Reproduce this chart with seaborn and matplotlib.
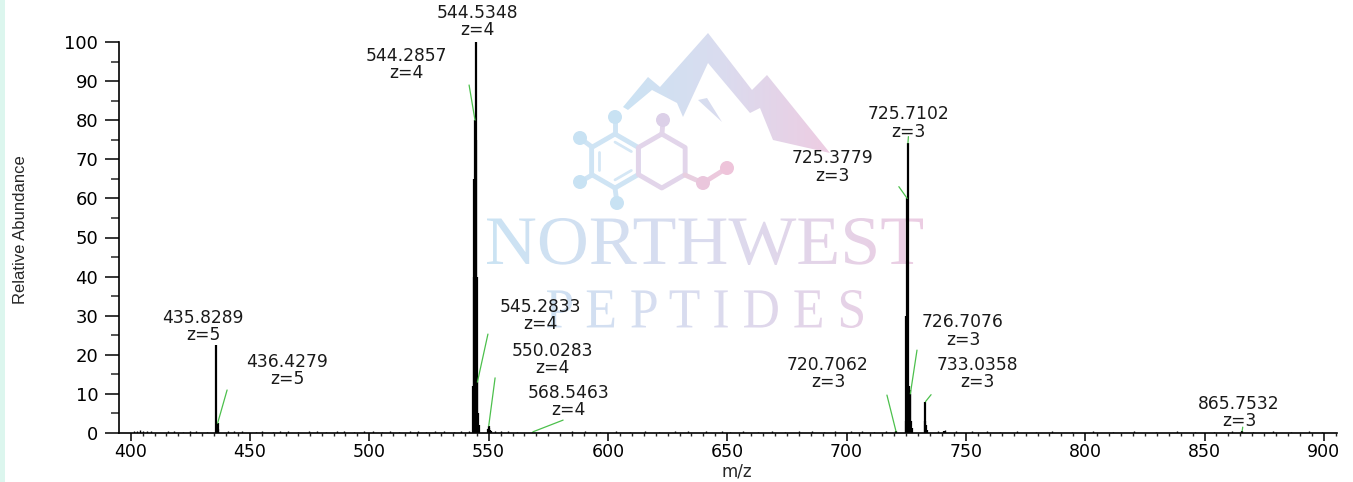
import numpy as np
import matplotlib
matplotlib.use("Agg")
import matplotlib.pyplot as plt
import matplotlib.ticker as mticker
import seaborn as sns
from matplotlib.patches import PathPatch, Polygon, Circle, Rectangle
from matplotlib.textpath import TextPath
from matplotlib.font_manager import FontProperties
from matplotlib.colors import LinearSegmentedColormap
from matplotlib.transforms import Affine2D

sns.set_style("ticks")
plt.rcParams["font.family"] = ["DejaVu Sans"]

# Centroid peaks: m/z and relative abundance (%)
peak_mz = [435.8289, 436.0291, 436.2283, 436.4279, 436.6284,
           543.5345, 543.7838, 544.0347, 544.2857, 544.5348,
           544.7850, 545.0339, 545.2833, 545.5340, 545.7840,
           549.7780, 550.0283, 550.2790, 550.5300, 551.0300,
           568.5463, 720.7062,
           724.7120, 725.0443, 725.3779, 725.7102, 726.0427,
           726.3751, 726.7076, 727.0402, 727.3720,
           732.7025, 733.0358, 733.3690, 733.7020, 740.7000,
           865.7532]
peak_int = [22.5, 2.0, 2.6, 2.5, 1.0,
            12, 40, 65, 80, 100,
            75, 40, 13, 5, 2,
            1.0, 1.8, 1.4, 0.8, 0.5,
            0.3, 0.4,
            3, 30, 60, 74.2, 12,
            11, 10, 3, 1.2,
            3, 8, 2, 0.8, 0.6,
            0.5]

# Low-level baseline noise
noise_mz = [401.2, 402.5, 404.1, 405.3, 407.0, 408.4, 415.6, 418.2, 421.9, 424.7,
            427.3, 431.8, 440.9, 443.2, 446.8, 452.5, 455.1, 459.7, 462.4, 466.0,
            470.3, 474.8, 478.1, 481.9, 486.6, 489.2, 493.5, 497.8, 501.4, 505.2,
            508.7, 512.3, 516.9, 520.4, 523.8, 527.6, 531.1, 535.4, 538.6, 541.9,
            552.6, 555.3, 558.1, 561.7, 575.2, 584.9, 590.3, 596.8, 603.5, 609.2,
            615.7, 621.4, 628.0, 633.6, 641.1, 647.9, 651.2, 656.4, 662.8, 668.9,
            674.3, 680.1, 685.6, 690.7, 695.2, 701.9, 706.4, 711.3, 716.5, 738.2,
            741.3, 745.8, 752.4, 758.9, 764.1, 771.6, 779.4, 786.2, 794.5, 803.1,
            811.8, 820.3, 829.7, 838.6, 846.2, 853.9, 861.5, 870.2, 878.6, 886.3,
            893.7, 899.4]
noise_int = [0.6, 0.5, 0.7, 0.5, 0.6, 0.4, 0.4, 0.5, 0.3, 0.5,
             0.4, 0.3, 0.6, 0.4, 0.5, 0.3, 0.4, 0.3, 0.5, 0.4,
             0.3, 0.5, 0.4, 0.3, 0.5, 0.4, 0.3, 0.4, 0.5, 0.3,
             0.4, 0.3, 0.5, 0.4, 0.3, 0.4, 0.5, 0.3, 0.4, 0.5,
             0.6, 0.5, 0.4, 0.3, 0.3, 0.4, 0.5, 0.3, 0.4, 0.3,
             0.4, 0.3, 0.5, 0.4, 0.6, 0.5, 0.3, 0.4, 0.3, 0.4,
             0.3, 0.4, 0.5, 0.3, 0.4, 0.5, 0.4, 0.3, 0.4, 0.5,
             0.8, 0.4, 0.5, 0.4, 0.3, 0.4, 0.3, 0.4, 0.3, 0.4,
             0.3, 0.4, 0.3, 0.4, 0.3, 0.3, 0.4, 0.3, 0.4, 0.3,
             0.4, 0.3]

# Labelled peaks and their charge states
label_mz = [435.8289, 436.4279, 544.2857, 544.5348, 545.2833, 550.0283, 568.5463,
            720.7062, 725.3779, 725.7102, 726.7076, 733.0358, 865.7532]
label_z = [5, 5, 4, 4, 4, 4, 4, 3, 3, 3, 3, 3, 3]

# layout: where each label sits, and where its green leader starts (None = no leader)
label_xy = [(430.3, 27.2), (465.5, 16.0), (515.4, 94.2), (545.1, 105.2), (571.5, 30.1),
            (576.6, 18.8), (583.3, 8.1), (692.2, 15.2), (693.9, 68.0), (725.8, 79.3),
            (748.8, 26.1), (754.7, 15.2), (864.5, 5.2)]
leader_from = [None, (440.4, 11.0), (541.8, 89.0), None, (549.7, 25.3),
               (552.7, 14.1), (581.2, 3.3), (716.9, 9.7), (721.9, 63.0), (725.9, 75.8),
               (729.5, 21.2), (735.4, 9.8), (866.0, 1.5)]

W, H = 1353, 482
fig = plt.figure(figsize=(W / 100, H / 100), dpi=100)
fig.patch.set_facecolor("white")
fig.patches.append(Rectangle((0, 0), 5 / W, 1, transform=fig.transFigure,
                             facecolor="#dcf6ee", edgecolor="none"))

# ---- watermark layer (pixel coordinates, y down) ----
wm = fig.add_axes([0, 0, 1, 1], zorder=0)
wm.set_autoscale_on(False)
wm.axis("off")
wm_cmap = LinearSegmentedColormap.from_list("wm", ["#c8e5f5", "#dadcef", "#efcbe1"])
grad = np.linspace(0, 1, 256).reshape(1, -1)


def gradient_fill(patch, x0, x1, y0, y1):
    wm.add_patch(patch)
    im = wm.imshow(grad, cmap=wm_cmap, extent=(x0, x1, y1, y0), aspect="auto",
                   interpolation="bilinear", zorder=1)
    im.set_clip_path(patch)


serif = FontProperties(family=["Liberation Serif", "DejaVu Serif"])


def gradient_word(s, x0, x1, y_base, cap):
    tp = TextPath((0, 0), s, size=100, prop=serif)
    bb = tp.get_extents()
    tr = (Affine2D().translate(-bb.x0, -bb.y0)
          .scale((x1 - x0) / bb.width, -cap / bb.height)
          .translate(x0, y_base))
    patch = PathPatch(tr.transform_path(tp), transform=wm.transData,
                      facecolor="none", edgecolor="none")
    gradient_fill(patch, 440, 960, y_base - cap, y_base)


gradient_word("NORTHWEST", 487, 923, 265, 47)
gradient_word("P E P T I D E S", 547, 863, 328, 38)

mountain = [(623, 107), (648, 77), (660, 87), (708, 33), (752, 90), (767, 75), (830, 153),
            (773, 140), (760, 108), (750, 113), (708, 63), (683, 117), (677, 103),
            (652, 90), (628, 110)]
gradient_fill(Polygon(mountain, closed=True, transform=wm.transData,
                      facecolor="none", edgecolor="none"), 600, 840, 30, 160)
gradient_fill(Polygon([(698, 100), (707, 98), (722, 122)], closed=True,
                      transform=wm.transData, facecolor="none", edgecolor="none"),
              600, 840, 30, 160)

r = 27
ang = np.deg2rad([90, 30, -30, -90, -150, 150, 90])
for cx, col in [(615, "#cfe4f4"), (615 + 2 * r * np.cos(np.pi / 6), "#e2d5ea")]:
    wm.plot(cx + r * np.cos(ang), 161 - r * np.sin(ang), color=col, lw=3.5,
            solid_capstyle="round", zorder=1)
inner = 0.7 * r
for a0, a1 in [(150, 210), (30, 90), (-30, -90)]:
    aa = np.deg2rad([a0, a1])
    wm.plot(615 + inner * np.cos(aa), 161 - inner * np.sin(aa), color="#d5e7f5", lw=2, zorder=1)
bonds = [((615, 134), (615, 117), "#cfe4f4"), ((592, 147), (580, 138), "#cfe4f4"),
         ((592, 175), (580, 182), "#cfe4f4"), ((615, 188), (617, 203), "#cfe4f4"),
         ((662, 134), (663, 120), "#e2d5ea"), ((685, 175), (703, 183), "#e8cfe0"),
         ((703, 183), (727, 168), "#ecc9dd")]
for (xa, ya), (xb, yb), col in bonds:
    wm.plot([xa, xb], [ya, yb], color=col, lw=3.5, zorder=1)
for (bx, by), col in [((615, 117), "#c8e2f3"), ((580, 138), "#c8e2f3"), ((580, 182), "#c8e2f3"),
                      ((617, 203), "#c8e2f3"), ((663, 120), "#dcd0e8"), ((703, 183), "#eac6dc"),
                      ((727, 168), "#eec4da")]:
    wm.add_patch(Circle((bx, by), 7, facecolor=col, edgecolor="none", zorder=2))
wm.set_xlim(0, W)
wm.set_ylim(H, 0)

# ---- spectrum ----
ax = fig.add_axes([119 / W, 49 / H, (1337 - 119) / W, 391 / H], zorder=2)
ax.patch.set_alpha(0)

ax.vlines(noise_mz, 0, noise_int, colors="black", lw=1.0)
ax.vlines(peak_mz, 0, peak_int, colors="black", lw=1.6)

height_of = dict(zip(peak_mz, peak_int))
for mz, z, (tx, ty), start in zip(label_mz, label_z, label_xy, leader_from):
    if start is not None:
        ax.plot([start[0], mz], [start[1], height_of[mz]], color="#4cc04c", lw=0.9,
                clip_on=False, zorder=3)
    ax.text(tx, ty, f"{mz:.4f}\nz={z}", ha="center", va="center", fontsize=12.3,
            linespacing=0.95, color="#1a1a1a", clip_on=False, zorder=4)

ax.set_xlim(395.1, 905.5)
ax.set_ylim(0, 100)
ax.xaxis.set_major_locator(mticker.MultipleLocator(50))
ax.xaxis.set_minor_locator(mticker.MultipleLocator(5))
ax.yaxis.set_major_locator(mticker.MultipleLocator(10))
ax.yaxis.set_minor_locator(mticker.MultipleLocator(5))
sns.despine(ax=ax)
for side in ["left", "bottom"]:
    ax.spines[side].set_linewidth(1.2)
    ax.spines[side].set_color("black")
ax.tick_params(axis="y", which="major", length=10, width=1.1, pad=5, labelsize=13,
               colors="black")
ax.tick_params(axis="y", which="minor", length=6, width=1.1)
ax.tick_params(axis="x", which="major", length=6, width=1.1, pad=1.5, labelsize=12.5,
               colors="black")
ax.tick_params(axis="x", which="minor", length=2.5, width=1.0)

ax.set_xlabel("m/z", fontsize=12)
ax.xaxis.set_label_coords(0.507, -0.076)
ax.set_ylabel("Relative Abundance", fontsize=12,
              family=["Liberation Sans Narrow", "Liberation Sans", "DejaVu Sans"])
ax.yaxis.set_label_coords(-0.0747, 0.519)

fig.savefig("out.png", dpi=100)
